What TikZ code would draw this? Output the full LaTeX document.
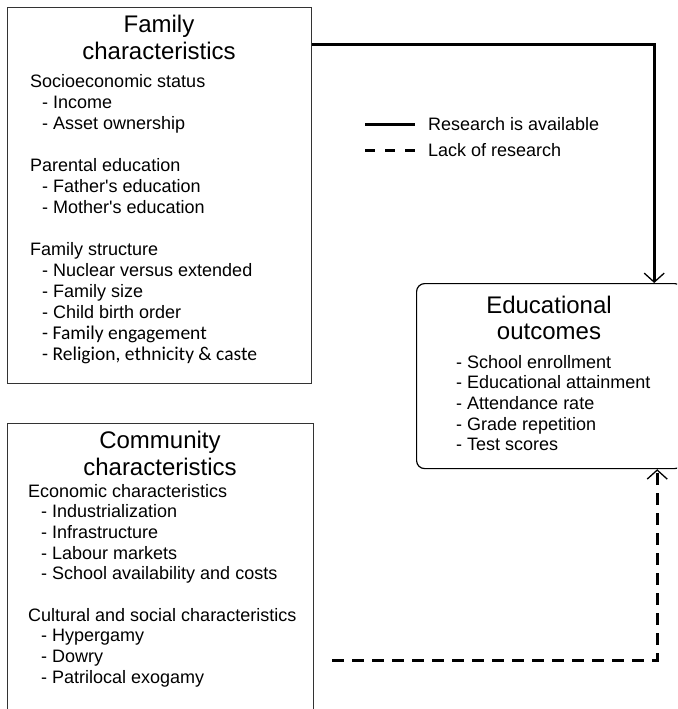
\documentclass[tikz,border=0pt]{standalone}
\usepackage{fontspec}
\setmainfont{Liberation Sans}
\newfontfamily\calibfont{Carlito}
\usetikzlibrary{arrows.meta,calc}
\begin{document}
\begin{tikzpicture}[x=1pt,y=-1pt,
  box/.style={draw=black!80, line width=1.3pt, inner sep=0pt, anchor=north west},
  edubox/.style={draw=black, line width=1.2pt, rounded corners=8pt, inner sep=0pt, anchor=north west},
  titletext/.style={inner sep=0pt, anchor=base},
  bodytext/.style={inner sep=0pt, anchor=base west},
  link/.style={line width=3pt, -{Straight Barb[length=9pt,width=20pt,line width=1.3pt]}},
  gap/.style={link, dash pattern=on 12pt off 8pt},
  legline/.style={line width=3pt},
  legdash/.style={line width=3pt, dash pattern=on 10pt off 10pt},
]
\clip (0,0) rectangle (677,709);
% boxes
\node[box, minimum width=304pt, minimum height=376pt] (fam) at (7,7) {};
\node[box, minimum width=306pt, minimum height=307pt] (com) at (7,423) {};
\node[edubox, minimum width=266pt, minimum height=185pt] (edu) at (416,283) {};
% family text
\node[titletext, font=\fontsize{24}{27}\selectfont] (famtitle) at (159,33)
  {\begin{tabular}[t]{@{}c@{}}Family\\characteristics\end{tabular}};
\node[bodytext, font=\fontsize{18}{21}\selectfont] (fambody) at (30,87)
  {\begin{tabular}[t]{@{}l@{}}
  Socioeconomic status\\
  \hspace*{12pt}- Income\\
  \hspace*{12pt}- Asset ownership\\
  \\
  Parental education\\
  \hspace*{12pt}- Father\textquotesingle s education\\
  \hspace*{12pt}- Mother\textquotesingle s education\\
  \\
  Family structure\\
  \hspace*{12pt}- Nuclear versus extended\\
  \hspace*{12pt}- Family size\\
  \hspace*{12pt}- Child birth order\\
  {\calibfont\fontsize{19.5}{21}\selectfont\hspace*{12pt}- Family engagement}\\
  {\calibfont\fontsize{19.5}{21}\selectfont\hspace*{12pt}- Religion, ethnicity \& caste}
  \end{tabular}};
% community text
\node[titletext, font=\fontsize{24}{27}\selectfont] (comtitle) at (160,448)
  {\begin{tabular}[t]{@{}c@{}}Community\\characteristics\end{tabular}};
\node[bodytext, font=\fontsize{18}{20.7}\selectfont] (combody) at (28,497)
  {\begin{tabular}[t]{@{}l@{}}
  Economic characteristics\\
  \hspace*{13pt}- Industrialization\\
  \hspace*{13pt}- Infrastructure\\
  \hspace*{13pt}- Labour markets\\
  \hspace*{13pt}- School availability and costs\\
  \\
  Cultural and social characteristics\\
  \hspace*{13pt}- Hypergamy\\
  \hspace*{13pt}- Dowry\\
  \hspace*{13pt}- Patrilocal exogamy
  \end{tabular}};
% educational outcomes text
\node[titletext, font=\fontsize{24}{26}\selectfont] (edutitle) at (549,313)
  {\begin{tabular}[t]{@{}c@{}}Educational\\outcomes\end{tabular}};
\node[bodytext, font=\fontsize{18}{20.7}\selectfont] (edubody) at (456,368)
  {\begin{tabular}[t]{@{}l@{}}
  - School enrollment\\
  - Educational attainment\\
  - Attendance rate\\
  - Grade repetition\\
  - Test scores
  \end{tabular}};
% legend
\coordinate (legA1) at (365,124);
\coordinate (legA2) at (415,124);
\coordinate (legB1) at (365,150);
\coordinate (legB2) at (415,150);
\draw[legline] (legA1) -- (legA2);
\draw[legdash] (legB1) -- (legB2);
\node[bodytext, font=\fontsize{18}{21}\selectfont] (legAtext) at (428,130) {Research is available};
\node[bodytext, font=\fontsize{18}{21}\selectfont] (legBtext) at (428,156) {Lack of research};
% connectors
\coordinate (famout) at ($(fam.north east)+(0,38)$);
\coordinate (eduin) at ($(edu.north east)+(-29,0)$);
\draw[link] (famout) -| (eduin);
\coordinate (gapstart) at (332,660);
\coordinate (eduin2) at ($(edu.south east)+(-26,0)$);
\draw[gap] (gapstart) -| (eduin2);
\end{tikzpicture}
\end{document}
